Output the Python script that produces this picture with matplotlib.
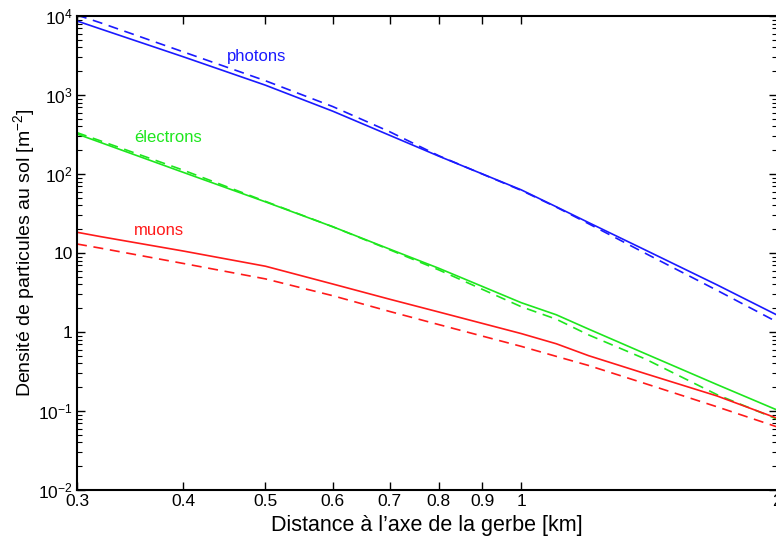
import numpy as np
import matplotlib
matplotlib.use('Agg')
import matplotlib.pyplot as plt
from matplotlib.ticker import FixedLocator, FixedFormatter, LogLocator, NullFormatter

plt.rcParams['font.family'] = ['Liberation Sans', 'DejaVu Sans']
plt.rcParams['mathtext.fontset'] = 'custom'
plt.rcParams['mathtext.rm'] = 'Liberation Sans'
plt.rcParams['mathtext.it'] = 'Liberation Sans:italic'

# distance to shower axis [km]
distance = [0.3, 0.32, 0.4, 0.5, 0.6, 0.7, 0.8, 1.0, 1.1, 1.2, 1.4, 1.7, 2.0]

# particle density at ground [m^-2], solid and dashed
photons_solid = [8650, 6840, 3050, 1330, 624, 309, 168, 63, 38.4, 24.3, 10.9, 3.95, 1.64]
photons_dashed = [10300, 8180, 3520, 1514, 714, 343, 170, 62, 38, 23.5, 9.9, 3.37, 1.34]
electrons_solid = [321, 250, 105, 44.4, 21.5, 11.2, 6.4, 2.35, 1.65, 1.09, 0.531, 0.216, 0.103]
electrons_dashed = [334, 262, 112, 45, 21.5, 11.0, 6.1, 2.09, 1.45, 0.92, 0.455, 0.161, 0.079]
muons_solid = [18.3, 16.1, 10.6, 6.8, 4.05, 2.60, 1.79, 0.955, 0.709, 0.502, 0.297, 0.155, 0.081]
muons_dashed = [13.0, 11.5, 7.38, 4.7, 2.88, 1.82, 1.24, 0.658, 0.491, 0.377, 0.222, 0.113, 0.063]

x_ticks = [0.3, 0.4, 0.5, 0.6, 0.7, 0.8, 0.9, 1, 2]
x_labels = ['0.3', '0.4', '0.5', '0.6', '0.7', '0.8', '0.9', '1', '2']
y_ticks = [1e-2, 1e-1, 1, 10, 1e2, 1e3, 1e4]
y_labels = ['$\\mathregular{10^{-2}}$', '$\\mathregular{10^{-1}}$', '1', '10',
            '$\\mathregular{10^{2}}$', '$\\mathregular{10^{3}}$', '$\\mathregular{10^{4}}$']

blue = '#1a1aff'
green = '#1ee61e'
red = '#ff1a1a'
dash = (0, (6, 4))

fig = plt.figure(figsize=(7.76, 5.39), dpi=100)
ax = fig.add_axes([77 / 776, 49 / 539, 700 / 776, 474 / 539])

ax.plot(distance, photons_solid, color=blue, lw=1.2)
ax.plot(distance, photons_dashed, color=blue, lw=1.2, linestyle=dash)
ax.plot(distance, electrons_solid, color=green, lw=1.2)
ax.plot(distance, electrons_dashed, color=green, lw=1.2, linestyle=dash)
ax.plot(distance, muons_solid, color=red, lw=1.2)
ax.plot(distance, muons_dashed, color=red, lw=1.2, linestyle=dash)

ax.set_xscale('log')
ax.set_yscale('log')
ax.set_xlim(0.3, 2)
ax.set_ylim(1e-2, 1e4)

ax.xaxis.set_major_locator(FixedLocator(x_ticks))
ax.xaxis.set_major_formatter(FixedFormatter(x_labels))
ax.xaxis.set_minor_locator(FixedLocator([]))
ax.yaxis.set_major_locator(FixedLocator(y_ticks))
ax.yaxis.set_major_formatter(FixedFormatter(y_labels))
ax.yaxis.set_minor_locator(LogLocator(base=10, subs=np.arange(2, 10)))
ax.yaxis.set_minor_formatter(NullFormatter())

ax.tick_params(which='both', direction='in', top=True, right=True, labelsize=12.5, pad=3)
ax.tick_params(which='major', length=6, width=1)
ax.tick_params(which='minor', length=3.5, width=0.8)
for s in ax.spines.values():
    s.set_linewidth(1.5)
ax.spines['right'].set_visible(False)

ax.set_xlabel('Distance à l’axe de la gerbe [km]', fontsize=15.5, labelpad=4)
ax.set_ylabel('Densité de particules au sol [m$^{\\mathregular{-2}}$]', fontsize=14, labelpad=1)

ax.text(0.4506, 2690, 'photons', color=blue, fontsize=12)
ax.text(0.35, 255, 'électrons', color=green, fontsize=12)
ax.text(0.35, 16.9, 'muons', color=red, fontsize=12)

fig.savefig('out.png', dpi=100)
